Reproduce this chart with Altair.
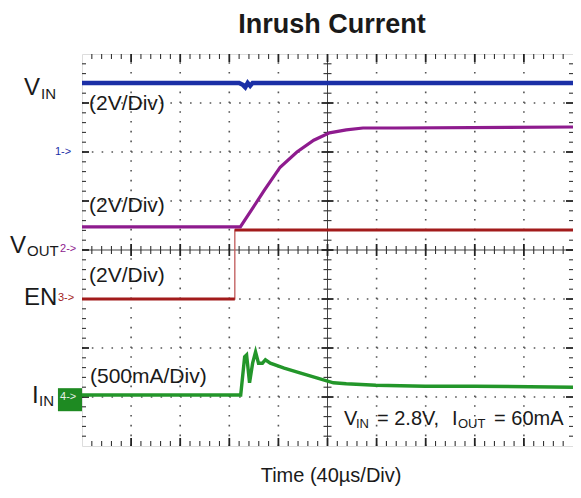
import altair as alt
import pandas as pd
import numpy as np

# Time in microseconds (10 div x 40 us); vertical position in screen divisions (0..8)
VIN_T = [0, 128, 131, 133, 135, 137, 139, 142, 400]
VIN_V = [7.41, 7.41, 7.37, 7.32, 7.41, 7.35, 7.41, 7.41, 7.41]

VOUT_T = [0, 129, 148.6, 161.4, 175.1, 188.8, 201.6, 215.3, 228.9, 255.4, 400]
VOUT_V = [4.47, 4.47, 5.22, 5.69, 6.00, 6.24, 6.39, 6.45, 6.49, 6.49, 6.51]

EN_T = [0, 124.5, 124.5, 400]
EN_V = [3.0, 3.0, 4.41, 4.41]
EN_SEG = ["low", "low", "high", "high"]

IIN_T = [0, 129.3, 132.5, 134.1, 136.5, 139.0, 141.4, 143.8, 147.0, 149.4, 153.4,
         164.7, 177.5, 191.2, 204.8, 215.3, 239.4, 279.5, 319.7, 400]
IIN_V = [1.04, 1.04, 1.82, 1.86, 1.29, 1.69, 1.92, 1.69, 1.69, 1.76, 1.69,
         1.59, 1.49, 1.39, 1.29, 1.27, 1.24, 1.22, 1.22, 1.20]

GRID_X = [40, 80, 120, 160, 240, 280, 320, 360]
GRID_Y = [1, 2, 3, 5, 6, 7]

LBL_TEXT = ["V", "IN", "1->", "V", "OUT", "2->", "EN", "3->", "I", "IN", "4->",
            "(2V/Div)", "(2V/Div)", "(2V/Div)", "(500mA/Div)",
            "V", "IN", "= 2.8V,", "I", "OUT", "= 60mA"]
LBL_T = [-47.3, -33.4, -22.0, -58.7, -44.8, -17.9, -47.3, -19.6, -40.7, -35.0, -17.9,
         5.7, 5.7, 5.7, 6.5,
         213.5, 223.2, 240.3, 301.4, 306.3, 335.7]
LBL_V = [7.31, 7.18, 6.00, 4.08, 3.98, 4.02, 3.02, 3.02, 1.02, 0.92, 1.00,
         6.98, 4.90, 3.47, 1.41,
         0.55, 0.45, 0.55, 0.55, 0.45, 0.55]
LBL_SIZE = [24, 15, 11, 24, 15, 11, 24, 11, 24, 15, 11,
            21, 21, 21, 21,
            20, 13, 20, 20, 13, 20]
DARK = "#1a1a1a"
LBL_COLOR = [DARK, DARK, "#1b2fa6", DARK, DARK, "#8e1b8e", DARK, "#a21b1b", DARK, DARK, "#e8f0e8",
             DARK, DARK, DARK, DARK,
             DARK, DARK, DARK, DARK, DARK, DARK]

FONT = "Liberation Sans"
PLOT_W, PLOT_H = 491, 392

xs = alt.Scale(domain=[0, 400], nice=False, zero=False)
ys = alt.Scale(domain=[0, 8], nice=False, zero=False)


def X(f):
    return alt.X(f, type="quantitative", scale=xs, axis=None)


def Y(f):
    return alt.Y(f, type="quantitative", scale=ys, axis=None)


# ---- graticule ----
gx = pd.DataFrame({"t": GRID_X, "v0": 0, "v1": 8})
gy = pd.DataFrame({"v": GRID_Y, "t0": 0, "t1": 400})
grid_v = alt.Chart(gx).mark_rule(color="#555", strokeWidth=1.6, strokeDash=[1.6, 8.2]).encode(
    x=X("t"), y=Y("v0"), y2="v1")
grid_h = alt.Chart(gy).mark_rule(color="#555", strokeWidth=1.6, strokeDash=[1.6, 8.22]).encode(
    y=Y("v"), x=X("t0"), x2="t1")
center = pd.DataFrame({"t0": [200, 0], "t1": [200, 400], "v0": [0, 4], "v1": [8, 4]})
center_l = alt.Chart(center).mark_rule(color="#444", strokeWidth=1).encode(
    x=X("t0"), x2="t1", y=Y("v0"), y2="v1")

px_t = 400 / float(PLOT_W)
px_v = 8 / float(PLOT_H)
rows = []
for k in range(1, 50):
    t = 8 * k
    major = (k % 5 == 0)
    L = 8 if major else 5
    C = 6 if major else 4
    rows.append((t, t, 8, 8 - L * px_v, major))
    rows.append((t, t, 0, L * px_v, major))
    rows.append((t, t, 4 - C * px_v, 4 + C * px_v, major))
for k in range(1, 40):
    v = 0.2 * k
    major = (k % 5 == 0)
    L = 7 if major else 4
    C = 6 if major else 4
    rows.append((0, L * px_t, v, v, major))
    rows.append((400, 400 - L * px_t, v, v, major))
    rows.append((200 - C * px_t, 200 + C * px_t, v, v, major))
ticks = pd.DataFrame(rows, columns=["t0", "t1", "v0", "v1", "major"])
tick_minor = alt.Chart(ticks[~ticks.major]).mark_rule(color="#333", strokeWidth=1.1).encode(
    x=X("t0"), x2="t1", y=Y("v0"), y2="v1")
tick_major = alt.Chart(ticks[ticks.major]).mark_rule(color="#222", strokeWidth=1.8).encode(
    x=X("t0"), x2="t1", y=Y("v0"), y2="v1")

# ---- traces ----
en_df = pd.DataFrame({"t": EN_T, "v": EN_V, "seg": EN_SEG})
en_edge = alt.Chart(en_df).mark_line(color="#c05a5a", strokeWidth=1.3).encode(x=X("t"), y=Y("v"))
en_line = alt.Chart(en_df).mark_line(color="#a21b1b", strokeWidth=3).encode(
    x=X("t"), y=Y("v"), detail="seg:N")
vout = alt.Chart(pd.DataFrame({"t": VOUT_T, "v": VOUT_V})).mark_line(
    color="#8e1b8e", strokeWidth=3.2).encode(x=X("t"), y=Y("v"))
iin = alt.Chart(pd.DataFrame({"t": IIN_T, "v": IIN_V})).mark_line(
    color="#23962a", strokeWidth=3.4).encode(x=X("t"), y=Y("v"))
vin = alt.Chart(pd.DataFrame({"t": VIN_T, "v": VIN_V})).mark_line(
    color="#1b2fa6", strokeWidth=4.5).encode(x=X("t"), y=Y("v"))

# ---- labels ----
box = alt.Chart(pd.DataFrame({"t0": [-19.6], "t1": [0], "v0": [0.71], "v1": [1.18]})).mark_rect(
    color="#1e8a22").encode(x=X("t0"), x2="t1", y=Y("v0"), y2="v1")
lbl = pd.DataFrame({"t": LBL_T, "v": LBL_V, "text": LBL_TEXT, "size": LBL_SIZE, "color": LBL_COLOR})
labels = alt.Chart(lbl).mark_text(align="left", baseline="middle", font=FONT).encode(
    x=X("t"), y=Y("v"), text="text:N",
    size=alt.Size("size:Q", scale=None), color=alt.Color("color:N", scale=None))
title = alt.Chart(pd.DataFrame({"t": [203.7], "v": [8.6], "text": ["Inrush Current"]})).mark_text(
    align="center", baseline="middle", font=FONT, fontWeight="bold", fontSize=27, color=DARK).encode(
    x=X("t"), y=Y("v"), text="text:N")
xtitle = alt.Chart(pd.DataFrame({"t": [202.9], "v": [-0.62], "text": ["Time  (40\u00b5s/Div)"]})).mark_text(
    align="center", baseline="middle", font=FONT, fontSize=20, color=DARK).encode(
    x=X("t"), y=Y("v"), text="text:N")

chart = alt.layer(
    grid_v, grid_h, center_l, tick_minor, tick_major,
    en_edge, en_line, vout, iin, vin,
    box, labels, title, xtitle,
).properties(
    width=PLOT_W, height=PLOT_H,
    padding={"left": 74, "top": 46, "right": 0, "bottom": 42},
    autosize=alt.AutoSizeParams(type="none"),
).configure_view(stroke="#444", strokeWidth=1.5).configure(background="white")

chart.save("out.html", embed_options={"renderer": "svg", "actions": False})
